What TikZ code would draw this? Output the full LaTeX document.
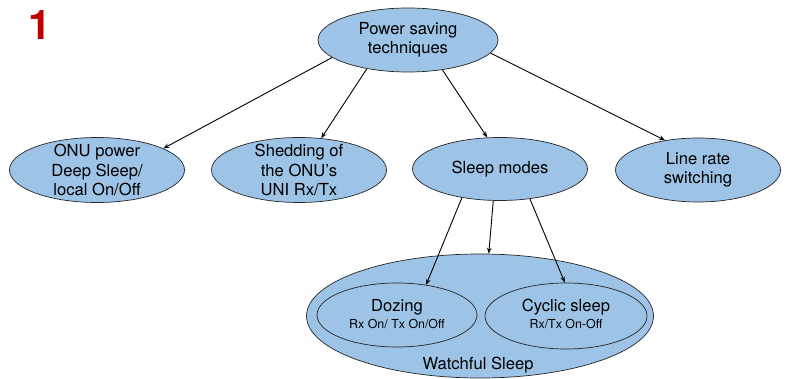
\documentclass[tikz,border=0pt]{standalone}
\usepackage{fontspec}
\setmainfont{TeX Gyre Heros}
\usetikzlibrary{shapes.geometric,arrows.meta}
\definecolor{ellfill}{HTML}{9DC3E6}
\definecolor{numred}{HTML}{C00000}
\begin{document}
\begin{tikzpicture}[x=1pt,y=-1pt,
  ell/.style={ellipse,draw=black!85,line width=0.7pt,fill=ellfill,inner sep=0pt},
  txt/.style={align=center,font=\fontsize{16.6}{19.5}\selectfont,inner sep=0pt},
  smalltxt/.style={align=center,font=\fontsize{12.4}{14}\selectfont,inner sep=0pt},
  arr/.style={-{Stealth[length=6pt,width=4.5pt]},line width=0.9pt}]
\useasboundingbox (0,0) rectangle (787,379);

\node[font=\fontsize{41}{41}\selectfont\bfseries, text=numred, inner sep=0pt] (num) at (40,25) {1};

\node[ell,minimum width=180pt,minimum height=64pt] (top) at (408,40) {};
\node[txt] (toptext) at (top) {Power saving\\techniques};

\node[ell,minimum width=175pt,minimum height=65pt] (onu) at (97,170) {};
\node[txt] (onutext) at (onu) {ONU power\\Deep Sleep/\\local On/Off};

\node[ell,minimum width=175pt,minimum height=65pt] (shed) at (299,170) {};
\node[txt] (shedtext) at (shed) {Shedding of\\the ONU’s\\UNI Rx/Tx};

\node[ell,minimum width=175pt,minimum height=63pt] (sleep) at (500,169) {};
\node[txt] (sleeptext) at (sleep) {Sleep modes};

\node[ell,minimum width=165pt,minimum height=64pt] (line) at (698,170) {};
\node[txt] (linetext) at (line) {Line rate\\switching};

\node[ell,minimum width=347pt,minimum height=124pt] (watch) at (480,316) {};
\node[txt] (watchtext) at (478,365) {Watchful Sleep};

\node[ell,minimum width=160pt,minimum height=64pt] (doz) at (397,315) {};
\node[txt] (doztitle) at (397,307) {Dozing};
\node[smalltxt] (dozsub) at (397,324) {Rx On/ Tx On/Off};

\node[ell,minimum width=162pt,minimum height=66pt] (cyc) at (566,316) {};
\node[txt] (cyctitle) at (566,307) {Cyclic sleep};
\node[smalltxt] (cycsub) at (566,324) {Rx/Tx On-Off};

\draw[arr] (top.193) -- (onu.18);
\draw[arr] (top.215) -- (shed.55);
\draw[arr] (top.319) -- (sleep.112);
\draw[arr] (top.351) -- (line.138);
\draw[arr] (sleep.217) -- (doz.46);
\draw[arr] (sleep.258) -- (watch.82);
\draw[arr] (sleep.315) -- (cyc.92);
\end{tikzpicture}
\end{document}
